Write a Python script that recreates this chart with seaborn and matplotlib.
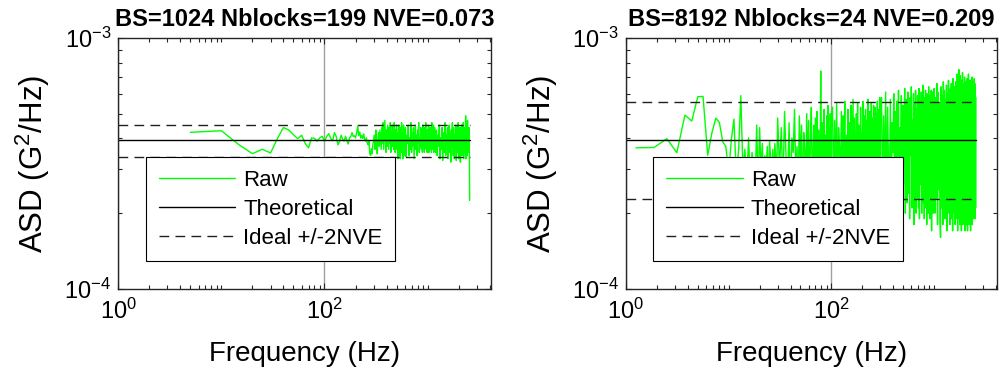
import numpy as np
import pandas as pd
import matplotlib
matplotlib.use('Agg')
import matplotlib.pyplot as plt
import seaborn as sns
from matplotlib.ticker import FixedLocator, LogLocator, NullFormatter, LogFormatterMathtext

sns.set_style('ticks')
plt.rcParams['font.family'] = ['Liberation Sans', 'DejaVu Sans']
plt.rcParams['mathtext.fontset'] = 'custom'
plt.rcParams['mathtext.rm'] = 'Liberation Sans'
plt.rcParams['mathtext.it'] = 'Liberation Sans:italic'
plt.rcParams['mathtext.bf'] = 'Liberation Sans:bold'
plt.rcParams['text.color'] = 'black'
plt.rcParams['axes.labelcolor'] = 'black'
plt.rcParams['xtick.color'] = 'black'
plt.rcParams['ytick.color'] = 'black'

UNIT = 1e-5  # all ASD values below are in units of 1e-5 G^2/Hz

# ---------------- data ----------------
theory_value = 39.3          # theoretical ASD level
theory_freq = [1.0, 2560.0]  # frequency span of theoretical / ideal lines

# Left panel (BS=1024)
left_title = 'BS=1024 Nblocks=199 NVE=0.073'
left_nve = 0.073
left_seg0 = [42.1, 42.7, 37.4, 34.6, 36.0, 34.8, 39.8, 44.0, 43.0, 41.2,
             39.7, 41.0, 38.0, 36.5, 40.0, 39.8, 38.8, 40.0, 40.6, 38.8,
             40.5, 41.6, 39.8, 39.0, 42.0, 40.5, 37.5, 38.8, 41.0, 39.5,
             38.8, 40.6, 39.0, 37.8, 40.0, 40.5, 42.0, 40.5, 40.8, 40.0,
             41.8, 44.7, 40.8, 42.2, 39.9, 40.9, 39.8, 41.5, 39.5, 38.8,
             40.0, 38.2, 37.5, 39.0, 34.7, 34.0, 36.2, 34.5, 37.8, 39.0]
left_seg1 = [41, 36, 43, 38, 34.5, 40, 42, 37, 43, 39,
             36, 44, 38, 46, 36, 41, 47, 39, 35, 43,
             37, 45, 40, 36, 44, 38, 46, 35, 42, 39,
             45, 37, 41, 36, 46, 39, 35, 43, 38, 45,
             36, 42, 33, 40, 45, 34, 38, 44, 33, 41,
             37, 46, 35, 42, 33, 39, 45, 36, 43, 34]
left_seg2 = [44, 33.5, 41, 38, 45, 34, 40, 36, 46, 35,
             42, 37, 44, 33, 39, 45, 36, 41, 34, 43,
             38, 46, 35, 40, 37, 44, 36, 42, 35, 45,
             37, 41, 35, 44, 38, 46, 36, 40, 35, 43,
             39, 45, 35, 42, 37, 44, 36, 41, 35, 46,
             38, 43, 36, 45, 35, 40, 44, 37, 42, 35]
left_seg3 = [43, 34, 41, 37, 45, 33, 40, 36, 44, 32.5,
             39, 42, 35, 46, 34, 41, 38, 44, 33, 40,
             45, 35, 42, 32, 43, 37, 46, 34, 39, 44,
             33, 41, 36, 45, 32.5, 40, 43, 35, 46, 33,
             42, 38, 44, 32, 41, 36, 45, 34, 43, 37,
             46, 33, 40, 44, 35, 42, 49, 33, 36, 45,
             34, 47, 38, 43, 35, 44, 39, 22.5]
# (start frequency, frequency step) of each segment
left_segments = [(5.0, 5.0, left_seg0), (305.0, 5.0, left_seg1),
                 (610.0, 10.0, left_seg2), (1220.0, 20.0, left_seg3)]

# Right panel (BS=8192)
right_title = 'BS=8192 Nblocks=24 NVE=0.209'
right_nve = 0.209
right_seg0 = [36.5, 36.6, 39.7, 34.9, 49.3, 46.7, 58.4, 58.6, 34.1, 42,
              48, 46, 38.6, 37, 29, 39.5, 47.5, 28, 36, 59,
              30, 36, 27, 40, 26, 35, 31, 27, 45, 24,
              44, 30, 38, 26, 34, 30, 37, 25, 39, 33,
              30, 36, 27, 38, 33, 29]
right_seg1 = [48, 30, 44, 25, 51, 33, 27, 46, 22, 40,
              35, 52, 28, 37, 24, 49, 31, 45, 20, 42,
              36, 26, 50, 29, 47, 23, 39, 53, 27, 34,
              45, 21, 48, 30, 51, 25, 43, 33, 28, 74,
              24, 46, 35, 22, 52, 29, 41, 26, 49, 32,
              54, 23, 44, 30, 50, 27, 47]
right_seg2 = [53, 24, 47, 30, 55, 21, 44, 36, 27, 51,
              19, 49, 33, 56, 25, 41, 28, 52, 22, 46,
              31, 54, 26, 38, 57, 20, 48, 34, 23, 50,
              29, 55, 18, 45, 37, 24, 53, 27, 42, 32,
              56, 21, 49, 30, 25, 52, 35, 19, 47, 28,
              57, 23, 44, 33, 51, 26, 39, 55, 20, 48,
              31, 24, 54, 29, 46, 22, 53, 36, 27, 50,
              18, 56, 32, 43, 25, 52, 30, 58, 21, 47]
right_seg3 = [58, 22, 49, 27, 61, 19, 53, 31, 24, 57,
              20, 46, 35, 60, 23, 51, 18, 56, 29, 62,
              21, 44, 33, 59, 17, 54, 26, 48, 63, 20,
              57, 30, 22, 61, 24, 50, 19, 58, 34, 64,
              21, 47, 25, 60, 18, 55, 28, 62, 20, 52,
              23, 59, 31, 21, 63, 19, 56, 26, 45, 61,
              20, 53, 22, 65, 24, 58, 19, 49, 29, 62,
              21, 57, 18, 60, 27, 54, 20, 64, 23, 51,
              19, 59, 32, 21, 62, 17, 55, 25, 61, 20,
              58, 22, 63]
right_seg4 = [63, 20, 58, 23, 66, 18, 61, 25, 55, 19,
              16, 64, 21, 59, 18, 67, 22, 62, 19, 57,
              24, 65, 17, 60, 20, 68, 23, 56, 18, 63,
              21, 66, 19, 61, 17, 69, 22, 58, 20, 64,
              18, 67, 21, 62, 19, 72, 17, 60, 23, 75,
              19, 65, 18, 71, 21, 63, 17, 68, 20, 73,
              18, 62, 22, 66, 19, 70, 17, 61, 21, 67,
              18, 64, 20, 69, 17, 60, 22, 72, 19, 65,
              18, 63, 21, 68, 17, 66, 20, 61, 19, 70,
              18, 64, 21, 67, 19, 62, 20, 69, 22, 66,
              19, 63, 21, 58]
right_segments = [(1.25, 0.625, right_seg0), (30.0, 1.25, right_seg1),
                  (102.5, 2.5, right_seg2), (307.5, 7.5, right_seg3),
                  (1005.0, 15.0, right_seg4)]

legend_labels = ['Raw', 'Theoretical', 'Ideal +/-2NVE']


def build_raw(segments):
    freqs, vals = [], []
    for start, step, v in segments:
        freqs.append(start + step * np.arange(len(v)))
        vals.append(np.asarray(v, dtype=float) * UNIT)
    return pd.DataFrame({'Frequency': np.concatenate(freqs),
                         'ASD': np.concatenate(vals)})


fig = plt.figure(figsize=(9.99, 3.83), dpi=100)
ax_l = fig.add_axes([0.1184, 0.2467, 0.3728, 0.6533])
ax_r = fig.add_axes([0.6266, 0.2467, 0.3714, 0.6533])

GREEN = '#00ff00'

for ax, segs, nve, title in [(ax_l, left_segments, left_nve, left_title),
                             (ax_r, right_segments, right_nve, right_title)]:
    raw = build_raw(segs)
    th = theory_value * UNIT
    line_df = pd.DataFrame({'Frequency': theory_freq,
                            'Theo': [th, th],
                            'Up': [th * (1 + 2 * nve)] * 2,
                            'Lo': [th * (1 - 2 * nve)] * 2})
    ax.set_xscale('log')
    ax.set_yscale('log')
    sns.lineplot(data=raw, x='Frequency', y='ASD', ax=ax, color=GREEN,
                 lw=1.0, estimator=None, sort=False, label=legend_labels[0])
    sns.lineplot(data=line_df, x='Frequency', y='Theo', ax=ax, color='black',
                 lw=1.0, estimator=None, label=legend_labels[1])
    sns.lineplot(data=line_df, x='Frequency', y='Up', ax=ax, color='#202020',
                 lw=1.0, estimator=None, label=legend_labels[2])
    sns.lineplot(data=line_df, x='Frequency', y='Lo', ax=ax, color='#202020',
                 lw=1.0, estimator=None, label='_nolegend_')
    for ln in ax.lines[2:4]:
        ln.set_dashes((7, 4.5))

    ax.set_xlim(1, 4096)
    ax.set_ylim(1e-4, 1e-3)
    ax.xaxis.set_major_locator(FixedLocator([1, 100, 10000]))
    ax.xaxis.set_major_formatter(LogFormatterMathtext())
    ax.xaxis.set_minor_locator(LogLocator(base=10, subs=np.arange(1, 10), numticks=20))
    ax.xaxis.set_minor_formatter(NullFormatter())
    ax.yaxis.set_major_locator(FixedLocator([1e-4, 1e-3]))
    ax.yaxis.set_major_formatter(LogFormatterMathtext())
    ax.yaxis.set_minor_locator(LogLocator(base=10, subs=np.arange(2, 10), numticks=20))
    ax.yaxis.set_minor_formatter(NullFormatter())
    ax.tick_params(which='both', direction='in', top=True, right=True,
                   colors='#262626', labelcolor='black')
    ax.tick_params(which='major', length=4, width=0.8, labelsize=17)
    ax.tick_params(axis='x', which='major', pad=7)
    ax.tick_params(axis='y', which='major', pad=5)
    ax.tick_params(which='minor', length=3, width=0.8)
    ax.grid(True, which='major', axis='x', color='#a0a0a0', lw=1.0)
    ax.set_axisbelow(True)
    for sp in ax.spines.values():
        sp.set_color('#262626')
        sp.set_linewidth(1.0)
    ax.set_xlabel('Frequency (Hz)', fontsize=20, labelpad=13)
    ax.set_ylabel('ASD (G$^{2}$/Hz)', fontsize=22.5, labelpad=9)
    ax.set_title(title, fontsize=17, fontweight='bold', pad=9)

    handles, labels = ax.get_legend_handles_labels()
    leg = ax.legend(handles[:3], legend_labels, loc='lower left',
                    bbox_to_anchor=(0.074, 0.108), borderaxespad=0,
                    fontsize=16, handlelength=3.45, handletextpad=0.36,
                    borderpad=0.575, labelspacing=0.36, frameon=True,
                    fancybox=False, framealpha=1, edgecolor='black')
    leg.get_frame().set_linewidth(0.8)
    leg.set_zorder(10)

fig.savefig('out.png', dpi=100)
